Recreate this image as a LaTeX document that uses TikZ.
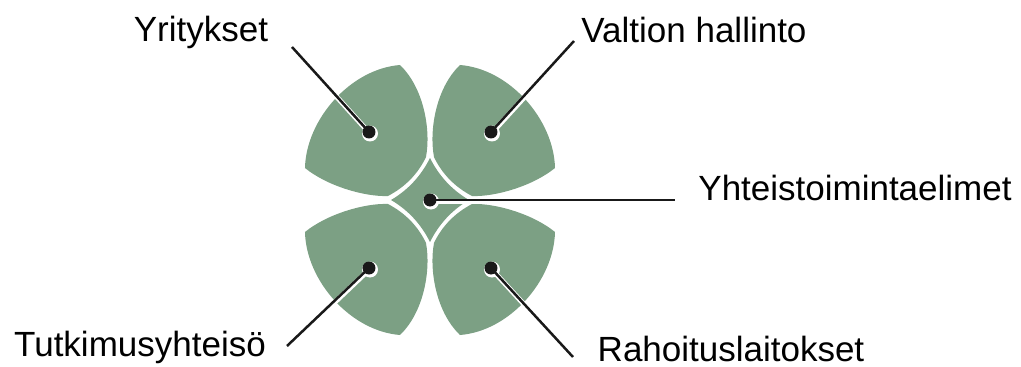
\documentclass[tikz,border=0pt]{standalone}
\usepackage{fontspec}
\setmainfont{Liberation Sans}
\usetikzlibrary{calc}
\definecolor{leaf}{RGB}{124,160,132}
\definecolor{ink}{RGB}{25,25,25}
\pgfdeclarelayer{back}\pgfsetlayers{back,main}
\begin{document}
\begin{tikzpicture}[x=1pt,y=1pt,font=\fontsize{35}{42}\selectfont,
 dot/.style={circle,fill=ink,inner sep=0pt,minimum size=13pt},
 lbl/.style={anchor=base,inner sep=0pt},
 wire/.style={ink,line width=2.5pt}]
 \useasboundingbox (-430,-167) rectangle (591,200);
 % four leaves and the middle piece
 \begin{pgfonlayer}{back}
 \foreach \sx/\sy in {1/1,-1/1,1/-1,-1/-1}{
  \fill[leaf,xscale=\sx,yscale=\sy] (-30,135) .. controls (-80,131) and (-124,80) .. (-125,32)
   .. controls (-103,14) and (-65,3) .. (-42,4) .. controls (-25,13) and (-12,26) .. (-4,43)
   .. controls (1,70) and (-6,112) .. cycle;}
 \fill[leaf] (0,42) .. controls (9,24) and (22,10) .. (39,0) .. controls (22,-10) and (9,-24) .. (0,-42)
  .. controls (-9,-24) and (-22,-10) .. (-39,0) .. controls (-22,10) and (-9,24) .. cycle;
 \end{pgfonlayer}
 % dots
 \node[dot] (yr) at (-61,68) {};
 \node[dot] (va) at (61,68) {};
 \node[dot] (yh) at (0,0) {};
 \node[dot] (tu) at (-61,-68) {};
 \node[dot] (ra) at (61,-68) {};
 % labels
 \node[lbl] (yrt) at (-229,158.5) {Yritykset};
 \node[lbl] (vat) at (264,157) {Valtion hallinto};
 \node[lbl] (yht) at (425,0) {Yhteistoimintaelimet};
 \node[lbl] (tut) at (-290,-156) {Tutkimusyhteisö};
 \node[lbl] (rat) at (301,-161) {Rahoituslaitokset};
 \coordinate (yre) at (-138,153);
 \coordinate (vae) at (144,159);
 \coordinate (yhe) at (245,0);
 \coordinate (tue) at (-143,-146);
 \coordinate (rae) at (143,-157);
 \begin{pgfonlayer}{back}
 \foreach \a/\b in {yr/yre,va/vae,yh/yhe,tu/tue,ra/rae}{
  \draw[white,line width=5pt] ([shift={(0.6,-1.2)}]\a.center) -- ([shift={(0.6,-1.2)}]\b);
  \fill[white] ([shift={(1,-1.5)}]\a.center) circle (8);}
 \end{pgfonlayer}
 \foreach \a/\b in {yr/yre,va/vae,yh/yhe,tu/tue,ra/rae}
  \draw[wire] (\a.center) -- (\b);
\end{tikzpicture}
\end{document}
